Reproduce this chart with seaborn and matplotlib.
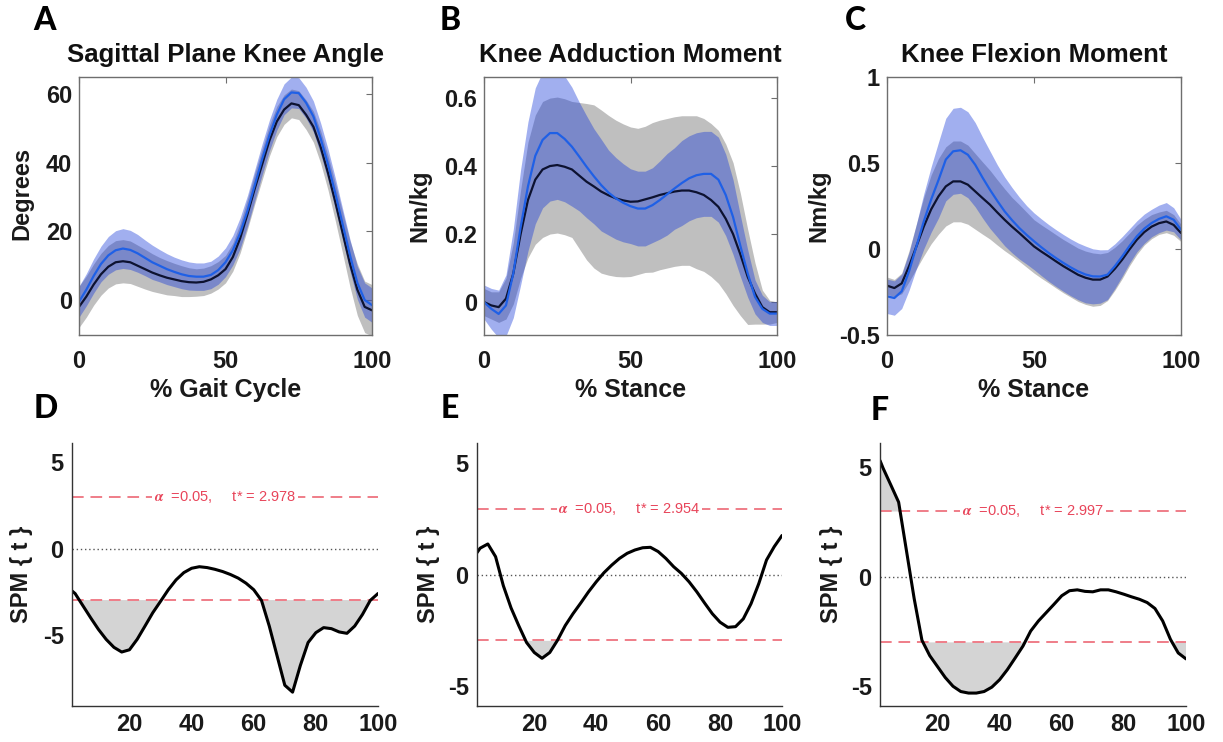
import numpy as np
import matplotlib
matplotlib.use("Agg")
import matplotlib.pyplot as plt
import matplotlib.transforms as mtransforms
import seaborn as sns

# ---------------- data ----------------
pct = [0, 2.5, 5, 7.5, 10, 12.5, 15, 17.5, 20, 22.5, 25, 27.5, 30, 32.5, 35, 37.5, 40,
       42.5, 45, 47.5, 50, 52.5, 55, 57.5, 60, 62.5, 65, 67.5, 70, 72.5, 75, 77.5, 80,
       82.5, 85, 87.5, 90, 92.5, 95, 97.5, 100]

# Panel A - sagittal knee angle (degrees)
a_ctrl_mean = [-2, 1, 4.5, 7.5, 9.7, 11, 11.3, 11, 10, 9, 8, 7.2, 6.5, 6, 5.5, 5.2, 5.1,
               5.3, 6, 7.2, 9, 12.5, 18, 25, 32.5, 39.5, 46.5, 52, 55.5, 57.3, 56.8, 54, 50.5,
               44.5, 37, 28.5, 19.5, 10.5, 3, -2, -3]
a_ctrl_sd = [6, 6, 6, 6.1, 6.2, 6.3, 6.3, 6.2, 6, 5.8, 5.5, 5.2, 5, 4.7, 4.5, 4.2, 4,
             4, 4, 4, 4, 4.1, 4.3, 4.4, 4.5, 4.5, 4.5, 4.4, 4.3, 4.2, 4.2, 4.3, 4.5,
             4.7, 5, 5.5, 6, 6.7, 7.5, 7.5, 7.5]
a_grp_mean = [-0.5, 3, 7, 10.5, 13, 14.5, 15, 14.6, 13.6, 12.3, 11, 10, 9, 8.2, 7.5, 7, 6.8,
              6.8, 7.3, 8.7, 11, 14.5, 19.5, 26, 33.5, 41, 48, 54, 58.5, 60.5, 60.3, 57.5, 53.5,
              47, 39.5, 31, 22, 13, 5, 0, -1.5]
a_grp_sd = [4.5, 4.7, 5, 5.2, 5.5, 5.7, 5.8, 5.7, 5.5, 5.2, 5, 4.7, 4.5, 4.3, 4.2, 4.1, 4,
            4, 4, 4.1, 4.2, 4.3, 4.5, 4.5, 4.5, 4.5, 4.5, 4.5, 4.5, 4.5, 4.5, 4.5, 4.5,
            4.5, 4.5, 4.5, 4.5, 4.6, 4.8, 5, 5]

# Panel B - knee adduction moment (Nm/kg)
b_ctrl_mean = [0.0, -0.01, -0.015, 0.01, 0.084, 0.2, 0.3, 0.36, 0.39, 0.4, 0.403, 0.398, 0.39,
               0.372, 0.354, 0.34, 0.325, 0.314, 0.305, 0.299, 0.295, 0.296, 0.302, 0.308, 0.315,
               0.32, 0.325, 0.328, 0.328, 0.323, 0.315, 0.3, 0.28, 0.245, 0.2, 0.14, 0.074,
               0.025, -0.015, -0.03, -0.03]
b_ctrl_sd = [0.04, 0.04, 0.045, 0.06, 0.09, 0.13, 0.17, 0.19, 0.2, 0.2, 0.2, 0.2, 0.2, 0.215,
             0.23, 0.24, 0.24, 0.235, 0.23, 0.225, 0.22, 0.215, 0.215, 0.22, 0.22, 0.22, 0.22,
             0.22, 0.22, 0.225, 0.225, 0.225, 0.225, 0.22, 0.21, 0.18, 0.14, 0.09, 0.05,
             0.035, 0.03]
b_grp_mean = [0.0, -0.02, -0.035, -0.01, 0.084, 0.22, 0.34, 0.43, 0.477, 0.497, 0.497, 0.48,
              0.457, 0.428, 0.398, 0.37, 0.344, 0.322, 0.305, 0.292, 0.282, 0.275, 0.275, 0.285,
              0.3, 0.317, 0.334, 0.35, 0.364, 0.373, 0.377, 0.377, 0.36, 0.315, 0.25, 0.165,
              0.084, 0.015, -0.02, -0.034, -0.034]
b_grp_sd = [0.05, 0.06, 0.07, 0.09, 0.13, 0.17, 0.19, 0.2, 0.2, 0.2, 0.195, 0.185, 0.175,
            0.16, 0.15, 0.14, 0.135, 0.125, 0.12, 0.115, 0.11, 0.11, 0.11, 0.11, 0.115, 0.12,
            0.12, 0.125, 0.125, 0.125, 0.125, 0.125, 0.125, 0.12, 0.11, 0.09, 0.07, 0.05,
            0.04, 0.035, 0.035]

# Panel C - knee flexion moment (Nm/kg)
c_ctrl_mean = [-0.213, -0.227, -0.2, -0.1, 0.015, 0.13, 0.23, 0.306, 0.364, 0.393, 0.393,
               0.374, 0.335, 0.296, 0.258, 0.213, 0.17, 0.13, 0.093, 0.054, 0.015, -0.015,
               -0.043, -0.072, -0.1, -0.125, -0.15, -0.167, -0.178, -0.178, -0.16, -0.115,
               -0.062, -0.002, 0.054, 0.098, 0.13, 0.15, 0.16, 0.14, 0.093]
c_ctrl_sd = [0.05, 0.05, 0.06, 0.09, 0.13, 0.17, 0.2, 0.22, 0.23, 0.235, 0.235, 0.23, 0.22,
             0.21, 0.2, 0.19, 0.18, 0.17, 0.165, 0.16, 0.155, 0.155, 0.155, 0.155, 0.155,
             0.155, 0.155, 0.155, 0.155, 0.15, 0.14, 0.125, 0.11, 0.095, 0.085, 0.075, 0.07,
             0.065, 0.065, 0.06, 0.05]
c_grp_mean = [-0.275, -0.285, -0.246, -0.13, 0.015, 0.16, 0.287, 0.4, 0.52, 0.568, 0.574,
              0.548, 0.49, 0.415, 0.345, 0.28, 0.219, 0.168, 0.122, 0.082, 0.045, 0.01,
              -0.023, -0.053, -0.081, -0.107, -0.13, -0.148, -0.159, -0.16, -0.149, -0.1,
              -0.043, 0.018, 0.074, 0.118, 0.151, 0.175, 0.19, 0.17, 0.112]
c_grp_sd = [0.1, 0.1, 0.1, 0.11, 0.13, 0.16, 0.19, 0.22, 0.24, 0.25, 0.25, 0.25, 0.245,
            0.235, 0.225, 0.21, 0.2, 0.19, 0.18, 0.17, 0.165, 0.165, 0.165, 0.165, 0.165,
            0.165, 0.165, 0.165, 0.16, 0.155, 0.145, 0.13, 0.115, 0.1, 0.09, 0.085, 0.08,
            0.08, 0.08, 0.07, 0.06]

# SPM{t} curves
spm_x = [1.5, 2.5, 5, 7.5, 10, 12.5, 15, 17.5, 20, 22.5, 25, 27.5, 30, 32.5, 35, 37.5, 40,
         42.5, 45, 47.5, 50, 52.5, 55, 57.5, 60, 62.5, 65, 67.5, 70, 72.5, 75, 77.5, 80,
         82.5, 85, 87.5, 90, 92.5, 95, 97.5, 100]
d_spm = [-2.45, -2.6, -3.3, -4.0, -4.67, -5.25, -5.71, -5.98, -5.85, -5.24, -4.48, -3.71,
         -3.05, -2.38, -1.81, -1.39, -1.14, -1.05, -1.1, -1.2, -1.33, -1.5, -1.71, -2.0,
         -2.38, -3.0, -4.48, -6.19, -7.9, -8.3, -6.76, -5.43, -4.86, -4.57, -4.63, -4.82,
         -4.9, -4.48, -3.81, -3.0, -2.6]
e_spm = [0.98, 1.18, 1.37, 0.8, -0.5, -1.5, -2.3, -3.05, -3.5, -3.76, -3.5, -2.95, -2.29,
         -1.76, -1.28, -0.78, -0.33, 0.08, 0.42, 0.72, 0.95, 1.1, 1.2, 1.22, 1.03, 0.72,
         0.35, 0.05, -0.33, -0.78, -1.28, -1.76, -2.14, -2.37, -2.34, -1.99, -1.31, -0.41,
         0.65, 1.25, 1.75]
f_spm = [5.3, 4.95, 4.18, 3.4, 1.2, -1.0, -2.9, -3.6, -4.1, -4.6, -5.0, -5.24, -5.31, -5.31,
         -5.24, -5.04, -4.7, -4.24, -3.71, -3.17, -2.48, -2.02, -1.64, -1.26, -0.87, -0.64,
         -0.6, -0.67, -0.69, -0.6, -0.6, -0.69, -0.8, -0.92, -1.03, -1.18, -1.45, -2.02,
         -2.86, -3.48, -3.75]
thresholds = [2.978, 2.954, 2.997]

panel_letters = ["A", "B", "C", "D", "E", "F"]
titles = ["Sagittal Plane Knee Angle", "Knee Adduction Moment", "Knee Flexion Moment"]
xlabels = ["% Gait Cycle", "% Stance", "% Stance"]
ylabels_top = ["Degrees", "Nm/kg", "Nm/kg"]
top_yticks = [[0, 20, 40, 60], [0, 0.2, 0.4, 0.6], [-0.5, 0, 0.5, 1]]
top_yticklabels = [["0", "20", "40", "60"], ["0", "0.2", "0.4", "0.6"], ["-0.5", "0", "0.5", "1"]]
top_xticks = [0, 50, 100]
bot_xticks = [20, 40, 60, 80, 100]
bot_yticks = [-5, 0, 5]
bot_yticklabels = ["-5", "0", "5"]

# ---------------- style ----------------
sns.set_theme(style="white")
plt.rcParams["font.family"] = ["Liberation Sans", "DejaVu Sans"]
plt.rcParams["font.weight"] = "bold"
plt.rcParams["axes.unicode_minus"] = False
plt.rcParams["mathtext.fontset"] = "stix"

fig = plt.figure(figsize=(12.23, 7.42), dpi=100)
W, H = 1223.0, 742.0


def px_axes(l, r, t, b):
    return fig.add_axes([l / W, 1 - b / H, (r - l) / W, (b - t) / H])


top_boxes = [(79, 372, 77, 335), (484, 777, 77, 335), (887, 1181, 77, 335)]
bot_boxes = [(72, 378, 443, 706), (477, 782, 443, 706), (880, 1186, 443, 706)]
top_ylims = [(-10.2, 65), (-0.097, 0.662), (-0.5, 1.0)]
bot_ylims = [(-9.1, 6.1), (-5.9, 5.9), (-5.9, 6.1)]
top_ylabel_xy = [(-0.155, 0.55), (-0.178, 0.5), (-0.194, 0.5)]
bot_ylabel_x = [-0.127, -0.121, -0.121]

top_data = [(a_ctrl_mean, a_ctrl_sd, a_grp_mean, a_grp_sd),
            (b_ctrl_mean, b_ctrl_sd, b_grp_mean, b_grp_sd),
            (c_ctrl_mean, c_ctrl_sd, c_grp_mean, c_grp_sd)]

black_col = "#0d1230"
blue_col = "#1f60e6"
band_gray = "#808080"
band_blue = "#1437d9"
spine_col = "#6e6e6e"

x = np.array(pct)
for i, (l, r, t, b) in enumerate(top_boxes):
    ax = px_axes(l, r, t, b)
    cm, cs, gm, gs = [np.array(v) for v in top_data[i]]
    ax.fill_between(x, cm - cs, cm + cs, color=band_gray, alpha=0.5, linewidth=0)
    ax.fill_between(x, gm - gs, gm + gs, color=band_blue, alpha=0.4, linewidth=0)
    sns.lineplot(x=x, y=cm, ax=ax, color=black_col, linewidth=1.6, sort=False)
    sns.lineplot(x=x, y=gm, ax=ax, color=blue_col, linewidth=1.6, sort=False)
    ax.set_xlim(0, 100)
    ax.set_ylim(*top_ylims[i])
    ax.set_xticks(top_xticks)
    ax.set_xticklabels([str(v) for v in top_xticks])
    ax.set_yticks(top_yticks[i])
    ax.set_yticklabels(top_yticklabels[i])
    ax.tick_params(axis="both", direction="in", length=4, width=0.8, color=spine_col,
                   top=True, right=True, labelsize=17)
    ax.tick_params(axis="x", pad=11)
    ax.tick_params(axis="y", pad=5)
    for sp in ax.spines.values():
        sp.set_visible(True)
        sp.set_color(spine_col)
        sp.set_linewidth(1.0)
    for lab in ax.get_xticklabels() + ax.get_yticklabels():
        lab.set_fontweight("bold")
        lab.set_color("#1a1a1a")
    ax.set_xlabel(xlabels[i], fontsize=18, fontweight="bold", color="#1a1a1a")
    ax.xaxis.set_label_coords(0.5, -0.165)
    ax.set_ylabel(ylabels_top[i], fontsize=17, fontweight="bold", color="#1a1a1a")
    ax.yaxis.set_label_coords(*top_ylabel_xy[i])
    ax.text(0.5, 1.058, titles[i], transform=ax.transAxes, ha="center", va="baseline",
            fontsize=18.5, fontweight="bold", color="#111111")

spm_data = [d_spm, e_spm, f_spm]
sx = np.array(spm_x)
for i, (l, r, t, b) in enumerate(bot_boxes):
    ax = px_axes(l, r, t, b)
    y = np.array(spm_data[i])
    thr = thresholds[i]
    ax.fill_between(sx, y, thr, where=y > thr, interpolate=True, color="#d4d4d4", linewidth=0)
    ax.fill_between(sx, y, -thr, where=y < -thr, interpolate=True, color="#d4d4d4", linewidth=0)
    ax.axhline(0, color="#555555", linestyle=(0, (1, 2)), linewidth=1.0)
    for s in (thr, -thr):
        ax.axhline(s, color="#ef7d88", linestyle=(0, (6, 3.5)), linewidth=1.4)
    sns.lineplot(x=sx, y=y, ax=ax, color="black", linewidth=2.2, sort=False)
    trans = mtransforms.blended_transform_factory(ax.transAxes, ax.transData)
    ax.text(0.5, thr, r"$\alpha$  =0.05,     t* = " + f"{thr:.3f}", transform=trans,
            ha="center", va="center", fontsize=10.5, fontweight="normal", color="#e8455a",
            bbox=dict(facecolor="white", edgecolor="none", pad=1.0))
    ax.set_xlim(1.5, 100)
    ax.set_ylim(*bot_ylims[i])
    ax.set_xticks(bot_xticks)
    ax.set_xticklabels([str(v) for v in bot_xticks])
    ax.set_yticks(bot_yticks)
    ax.set_yticklabels(bot_yticklabels)
    ax.tick_params(axis="both", direction="in", length=4, width=0.8, color="#333333",
                   labelsize=17)
    ax.tick_params(axis="x", pad=5)
    ax.tick_params(axis="y", pad=6)
    ax.spines["top"].set_visible(False)
    ax.spines["right"].set_visible(False)
    for side in ("left", "bottom"):
        ax.spines[side].set_visible(True)
        ax.spines[side].set_color("#333333")
        ax.spines[side].set_linewidth(1.0)
    for lab in ax.get_xticklabels() + ax.get_yticklabels():
        lab.set_fontweight("bold")
        lab.set_color("#1a1a1a")
    ax.set_ylabel("SPM { t }", fontsize=17, fontweight="bold", color="#1a1a1a")
    ax.yaxis.set_label_coords(bot_ylabel_x[i], 0.5)

letter_pos = [(33, 20), (440, 20), (845, 20), (34, 409), (441, 408), (871, 410)]
for (lx, ly), letter in zip(letter_pos, panel_letters):
    fig.text(lx / W, 1 - ly / H, letter, ha="left", va="center", fontsize=23,
             fontweight="black", family=["Lato", "DejaVu Sans"], color="black")

fig.savefig("out.png", dpi=100, facecolor="white")
